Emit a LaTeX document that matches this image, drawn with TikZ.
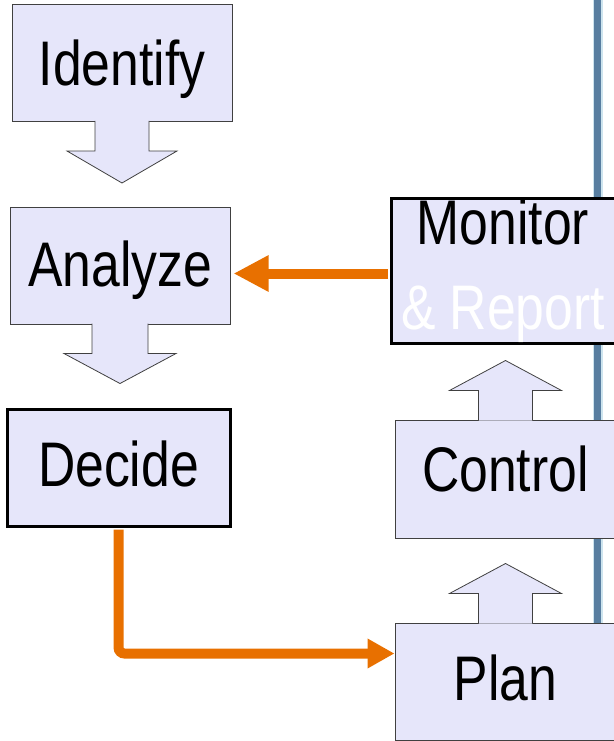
\documentclass[tikz,border=0pt]{standalone}
\usepackage{fontspec}
\setmainfont[FakeStretch=0.82]{Liberation Sans}
\usetikzlibrary{arrows.meta}
\definecolor{boxfill}{RGB}{230,230,250}
\definecolor{flowor}{RGB}{232,112,0}
\definecolor{railblue}{RGB}{88,126,160}
\definecolor{railedge}{RGB}{205,228,238}

\begin{document}
\begin{tikzpicture}[x=1pt,y=-1pt,
  box/.style={draw=black!75,line width=1pt,fill=boxfill,inner sep=0pt,
    minimum width=220pt,minimum height=117pt,font=\fontsize{63}{85}\selectfont},
  stage/.style={box,text height=45pt,text depth=#1},
  stage/.default=0pt,
  keybox/.style={draw=black,line width=3pt},
  blockarrow/.style={draw=black!75,line width=0.8pt,fill=boxfill},
  flow/.style={draw=flowor,line width=10pt,rounded corners=6pt}]
\useasboundingbox (0,0) rectangle (613,741);

% rail on the right
\draw[railedge,line width=10pt] (597.5,0) -- (597.5,623);
\draw[railblue,line width=7pt] (597.5,0) -- (597.5,623);

\node[stage] (idf) at (122,63) {Identify};
\node[stage=3pt] (ana) at (120,265.5) {Analyze};
\node[stage=8pt,keybox,minimum width=223pt] (dec) at (118.5,468) {Decide};

\node[box,keybox,minimum width=224pt,minimum height=145pt,align=center] (mon) at (503,270.5)
  {Monitor\\\textcolor{white}{\& Report}};
\node[stage=21pt,minimum width=221pt,minimum height=118pt] (ctl) at (505.5,479) {Control};
\node[stage=7pt,minimum width=221pt] (pln) at (505.5,681.5) {Plan};

% block arrows
\filldraw[blockarrow,shift={(idf.south)}] (-27,-1) -- (-27,29) -- (-55,29) -- (0,61) -- (55,29) -- (27,29) -- (27,-1);
\filldraw[blockarrow,shift={(ana.south)}] (-28,-1) -- (-28,29) -- (-56,29) -- (0,59) -- (56,29) -- (28,29) -- (28,-1);
\filldraw[blockarrow,shift={(pln.north)}] (-27,1) -- (-27,-29) -- (-56,-29) -- (0,-59) -- (56,-29) -- (27,-29) -- (27,1);
\filldraw[blockarrow,shift={(ctl.north)}] (-27,1) -- (-27,-29) -- (-56,-29) -- (0,-59) -- (56,-29) -- (27,-29) -- (27,1);

% feedback
\draw[flow,-{Triangle[length=35pt,width=34pt]},shorten >=3pt,shorten <=1.5pt]
  ([yshift=-3pt]mon.west) -- ([yshift=-3pt]mon.west -| ana.east);
\draw[flow,-{Triangle[length=27pt,width=28pt]},shorten <=1.5pt]
  (dec.south) |- ([yshift=28pt]pln.west);
\end{tikzpicture}
\end{document}
